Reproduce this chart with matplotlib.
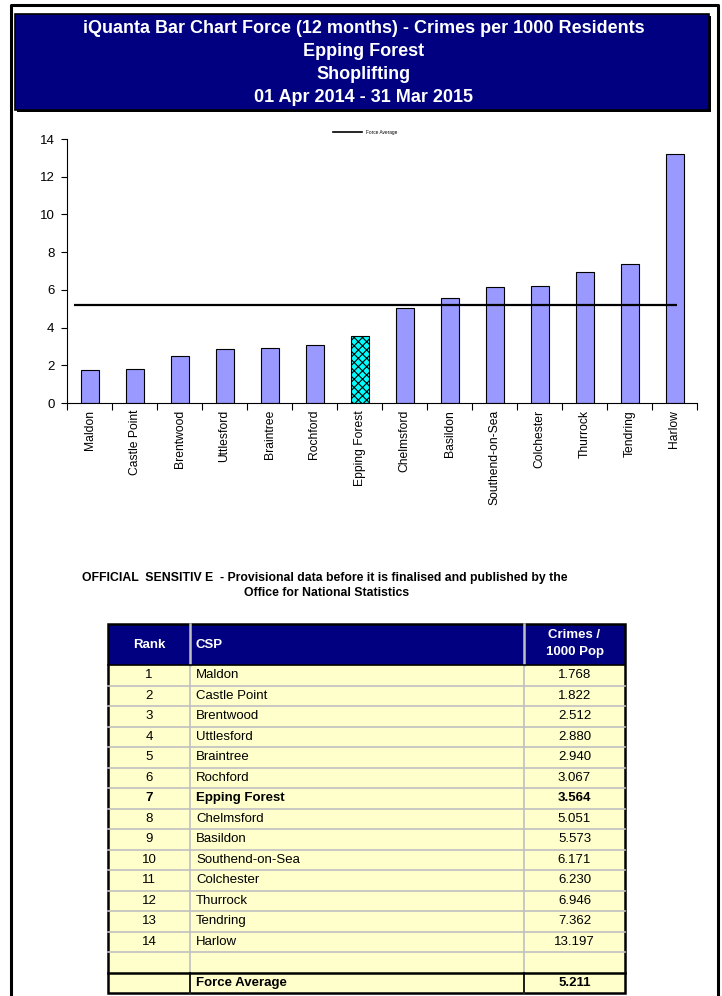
import numpy as np
import matplotlib.pyplot as plt
from matplotlib.patches import Rectangle

plt.rcParams['font.family'] = ['Liberation Sans', 'DejaVu Sans']
plt.rcParams['hatch.linewidth'] = 0.8

csp = ['Maldon', 'Castle Point', 'Brentwood', 'Uttlesford', 'Braintree', 'Rochford',
       'Epping Forest', 'Chelmsford', 'Basildon', 'Southend-on-Sea', 'Colchester',
       'Thurrock', 'Tendring', 'Harlow']
rate = [1.768, 1.822, 2.512, 2.880, 2.940, 3.067, 3.564, 5.051, 5.573, 6.171,
        6.230, 6.946, 7.362, 13.197]
rank = list(range(1, 15))
force_avg = 5.211
highlight = 'Epping Forest'

title_lines = ['iQuanta Bar Chart Force (12 months) - Crimes per 1000 Residents',
               'Epping Forest', 'Shoplifting', '01 Apr 2014 - 31 Mar 2015']

W, H = 722, 996
fig = plt.figure(figsize=(W/100, H/100), dpi=100)

# overlay in pixel coordinates for page furniture and the table
ov = fig.add_axes([0, 0, 1, 1])
ov.set_xlim(0, W)
ov.set_ylim(H, 0)
ov.axis('off')

# page border
ov.plot([11, 11, 718, 718], [H, 5, 5, H], color='black', lw=2.2)

# title box with shadow
ov.add_patch(Rectangle((17, 16), 694, 96, facecolor='black', edgecolor='none'))
ov.add_patch(Rectangle((15, 14), 694, 96, facecolor='#000080', edgecolor='black', lw=1.2))
for i, t in enumerate(title_lines):
    ov.text(364, 28 + i*23.3, t, color='white', fontsize=13, fontweight='bold',
            ha='center', va='center')

# bar chart
ax = fig.add_axes([67/W, 1-403/H, 630/W, 264/H])
x = np.arange(len(csp))
colors = ['#00FFFF' if c == highlight else '#9999FF' for c in csp]
bars = ax.bar(x, rate, width=0.4, color=colors, edgecolor='black', linewidth=0.8)
for b, c in zip(bars, csp):
    if c == highlight:
        b.set_hatch('xxxx')
ax.hlines(force_avg, -0.35, len(csp)-1+0.05, color='black', lw=1.6, label='Force Average')
ax.set_xlim(-0.5, len(csp)-0.5)
ax.set_ylim(0, 14)
ax.set_yticks(range(0, 15, 2))
ax.set_xticks(x)
ax.set_xticklabels(csp, rotation=90, fontsize=8.7)
ax.set_xticks(np.arange(-0.5, len(csp)), minor=True)
ax.tick_params(axis='x', which='major', length=0, pad=5)
ax.tick_params(axis='x', which='minor', length=5, direction='out', width=0.8)
ax.tick_params(axis='y', length=4, direction='out', width=0.8, labelsize=9.5, pad=5)
for s in ['top', 'right']:
    ax.spines[s].set_visible(False)
for s in ['left', 'bottom']:
    ax.spines[s].set_linewidth(0.8)

# tiny legend
ov.plot([333, 362], [132, 132], color='black', lw=1.2)
ov.text(366, 132, 'Force Average', fontsize=3.4, va='center', ha='left')

# disclaimer
ov.text(325, 578, 'OFFICIAL  SENSITIV E  - Provisional data before it is finalised and published by the',
        fontsize=8.8, fontweight='bold', ha='center', va='center')
ov.text(327, 593, 'Office for National Statistics', fontsize=8.8, fontweight='bold',
        ha='center', va='center')

# table
tx0, tx1, tx2, tx3 = 108, 190, 524, 625
hy0, hy1 = 624, 665
rh = 20.5
ov.add_patch(Rectangle((tx0, hy0), tx3-tx0, hy1-hy0, facecolor='#000080', edgecolor='none'))
body_bottom = hy1 + rh*(len(csp)+1)
ov.add_patch(Rectangle((tx0, hy1), tx3-tx0, body_bottom + rh - hy1, facecolor='#FFFFCC', edgecolor='none'))
ov.text((tx0+tx1)/2, (hy0+hy1)/2, 'Rank', color='white', fontsize=9.5, fontweight='bold', ha='center', va='center')
ov.text(tx1+5, (hy0+hy1)/2, 'CSP', color='white', fontsize=9.5, fontweight='bold', ha='left', va='center')
ov.text((tx2+tx3)/2, (hy0+hy1)/2 - 1, 'Crimes /\n1000 Pop', color='white', fontsize=9.5, fontweight='bold',
        ha='center', va='center', linespacing=1.6)

for i, (r, c, v) in enumerate(zip(rank, csp, rate)):
    yc = hy1 + rh*i + rh/2
    fw = 'bold' if c == highlight else 'normal'
    ov.text((tx0+tx1)/2, yc, str(r), fontsize=9.5, fontweight=fw, ha='center', va='center')
    ov.text(tx1+6, yc, c, fontsize=9.5, fontweight=fw, ha='left', va='center')
    ov.text((tx2+tx3)/2, yc, f'{v:.3f}', fontsize=9.5, fontweight=fw, ha='center', va='center')
    ov.plot([tx0, tx3], [hy1 + rh*(i+1)]*2, color='#C0C0C0', lw=1.2)

fy = body_bottom + rh/2
ov.text(tx1+6, fy, 'Force Average', fontsize=9.5, fontweight='bold', ha='left', va='center')
ov.text((tx2+tx3)/2, fy, f'{force_avg:.3f}', fontsize=9.5, fontweight='bold', ha='center', va='center')

# column separators and borders
for xc in [tx1, tx2]:
    ov.plot([xc, xc], [hy0, hy1], color='#C0C0C0', lw=1.8)
    ov.plot([xc, xc], [hy1, body_bottom + rh], color='#C0C0C0', lw=1.2)
    ov.plot([xc, xc], [body_bottom, body_bottom + rh], color='black', lw=1.2)
ov.plot([tx0, tx3], [body_bottom]*2, color='black', lw=1.8)
ov.plot([tx0, tx3], [hy1]*2, color='black', lw=1.2)
ov.add_patch(Rectangle((tx0, hy0), tx3-tx0, body_bottom + rh - hy0, facecolor='none',
                       edgecolor='black', lw=1.8))

fig.savefig('out.png', dpi=100)
